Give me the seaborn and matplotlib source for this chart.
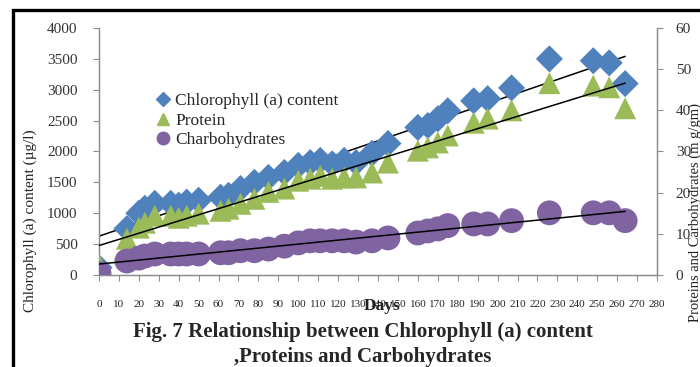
import numpy as np
import pandas as pd
import seaborn as sns
import matplotlib.pyplot as plt
from matplotlib.lines import Line2D
from matplotlib.patches import Rectangle

# Data
days = [0, 14, 20, 23, 28, 36, 40, 44, 50, 61, 65, 71, 78, 85, 93, 100, 106,
        111, 117, 123, 129, 137, 145, 160, 165, 170, 175, 188, 195, 207, 226,
        248, 256, 264]
chlorophyll = [120, 750, 1000, 1080, 1160, 1160, 1130, 1180, 1210, 1260, 1290,
               1400, 1500, 1580, 1660, 1775, 1820, 1855, 1800, 1855, 1820, 1970,
               2130, 2390, 2420, 2530, 2660, 2820, 2855, 3030, 3500, 3470, 3435,
               3100]
protein = [2.5, 8.8, 11.5, 12.7, 14.4, 14.4, 13.9, 14.4, 14.9, 15.6, 16.1, 17.3,
           18.5, 20.2, 21.0, 22.9, 23.4, 24.1, 23.4, 23.7, 23.7, 24.9, 27.3,
           30.2, 31.0, 32.2, 33.9, 37.0, 38.0, 40.0, 46.6, 46.0, 45.6, 40.5]
carbohydrates = [0.4, 3.4, 4.1, 4.6, 5.1, 5.1, 5.1, 5.1, 5.1, 5.4, 5.4, 5.9,
                 5.9, 6.3, 7.0, 7.8, 8.3, 8.3, 8.3, 8.3, 8.0, 8.3, 9.0, 10.2,
                 10.7, 11.2, 12.0, 12.4, 12.4, 13.2, 15.1, 15.1, 15.1, 13.2]

df = pd.DataFrame({"day": days, "chl": chlorophyll,
                   "protein": protein, "carb": carbohydrates})

BLUE = "#4F81BD"
GREEN = "#9BBB59"
PURPLE = "#8064A2"
AXIS_GRAY = "#8C8C8C"

sns.set_theme(style="ticks")
plt.rcParams["font.family"] = ["Liberation Serif", "DejaVu Serif"]

fig = plt.figure(figsize=(7.0, 3.67), dpi=100)
ax = fig.add_axes([0.1414, 0.2507, 0.7972, 0.673])
ax2 = ax.twinx()

# chlorophyll on the left axis
sns.scatterplot(data=df, x="day", y="chl", ax=ax, marker="D", s=190,
                color=BLUE, edgecolor="none", zorder=3)
sns.regplot(data=df, x="day", y="chl", ax=ax, scatter=False, ci=None,
            color="black", line_kws={"lw": 1.1}, truncate=True)

# protein and carbohydrates on the right axis
sns.scatterplot(data=df, x="day", y="protein", ax=ax2, marker="^", s=250,
                color=GREEN, edgecolor="none", zorder=3)
sns.scatterplot(data=df, x="day", y="carb", ax=ax2, marker="o", s=320,
                color=PURPLE, edgecolor="none", zorder=4)
sns.regplot(data=df, x="day", y="protein", ax=ax2, scatter=False, ci=None,
            color="black", line_kws={"lw": 1.1, "zorder": 5}, truncate=True)
sns.regplot(data=df, x="day", y="carb", ax=ax2, scatter=False, ci=None,
            color="black", line_kws={"lw": 1.1, "zorder": 5}, truncate=True)

# axes limits and ticks
ax.set_xlim(0, 280)
ax.set_ylim(0, 4000)
ax2.set_ylim(0, 60)
ax.set_xticks(np.arange(0, 281, 10))
ax.set_yticks(np.arange(0, 4001, 500))
ax2.set_yticks(np.arange(0, 61, 10))

for a in (ax, ax2):
    a.spines["top"].set_visible(False)
    for sp in ("left", "right", "bottom"):
        a.spines[sp].set_color(AXIS_GRAY)
        a.spines[sp].set_linewidth(0.9)
    a.set_xlabel("")
    a.set_ylabel("")

ax.tick_params(axis="x", direction="out", length=4, width=0.8, color=AXIS_GRAY,
               labelsize=8, pad=14, labelcolor="#222222")
ax.tick_params(axis="y", direction="out", length=4.5, width=0.8,
               color=AXIS_GRAY, labelsize=11, pad=11, labelcolor="#333333")
ax2.tick_params(axis="y", direction="out", length=4.5, width=0.8,
                color=AXIS_GRAY, labelsize=11, pad=9, labelcolor="#333333")

# axis titles (placed like in the original)
fig.text(0.043, 0.40, "Chlorophyll (a) content (\u00b5g/l)", rotation=90,
         ha="center", va="center", fontsize=11, color="#222222")
fig.text(0.993, 0.42, "Proteins and Carbohydrates (m g/gm)", rotation=90,
         ha="center", va="center", fontsize=10.5, color="#222222")
fig.text(0.546, 0.165, "Days", ha="center", va="center", fontsize=12.5,
         fontweight="bold", color="#222222")

# caption
fig.text(0.518, 0.095, "Fig. 7 Relationship between Chlorophyll (a) content",
         ha="center", va="center", fontsize=15, fontweight="bold")
fig.text(0.518, 0.027, ",Proteins and Carbohydrates",
         ha="center", va="center", fontsize=15, fontweight="bold")

# legend
handles = [
    Line2D([], [], ls="none", marker="D", ms=7, color=BLUE),
    Line2D([], [], ls="none", marker="^", ms=9, color=GREEN),
    Line2D([], [], ls="none", marker="o", ms=9, color=PURPLE),
]
labels = ["Chlorophyll (a) content", "Protein", "Charbohydrates"]
ax2.legend(handles, labels, loc="upper left", bbox_to_anchor=(0.09, 0.765),
           frameon=False, fontsize=12.5, handlelength=0.8, handletextpad=0.3,
           labelspacing=0.2, borderaxespad=0)

# black frame around the figure (left and top edges visible)
fig.add_artist(Rectangle((0.0185, -0.5), 2.0, 0.974 + 0.5,
                         transform=fig.transFigure, fill=False,
                         edgecolor="black", lw=2.4, clip_on=False))

fig.savefig("out.png", dpi=100)
